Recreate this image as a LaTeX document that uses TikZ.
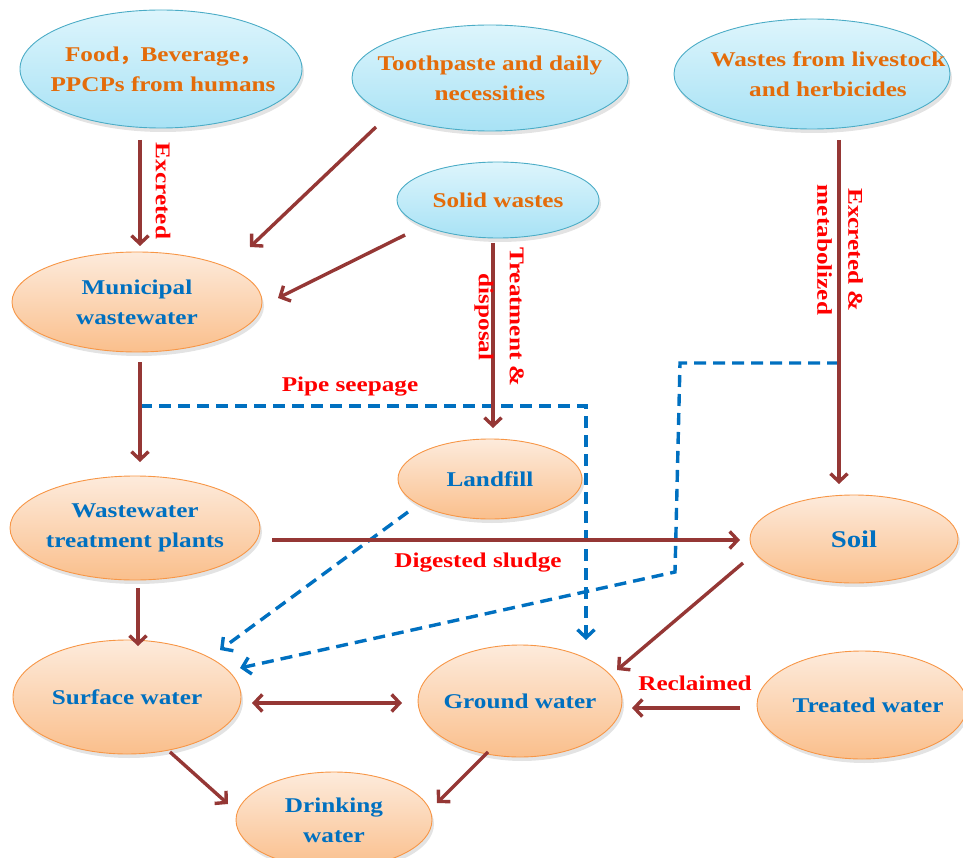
\documentclass[tikz,border=0pt]{standalone}
\usepackage{fontspec}
\setmainfont[FakeStretch=1.2]{Liberation Serif}
\newfontfamily\cjkfont{Noto Sans CJK SC}
\usetikzlibrary{arrows.meta,shapes.geometric,shadows}
\definecolor{brn}{HTML}{953735}
\definecolor{dblue}{HTML}{0070C0}
\definecolor{ortxt}{HTML}{E46C0A}
\definecolor{otop}{HTML}{FDEBDC}
\definecolor{obot}{HTML}{FABF8C}
\definecolor{oborder}{HTML}{F79646}
\definecolor{btop}{HTML}{DDF5FC}
\definecolor{bbot}{HTML}{A8E2F5}
\definecolor{bborder}{HTML}{4BACC6}
\definecolor{lblred}{HTML}{FF0000}
\newcommand{\nf}{\fontsize{21}{30}\selectfont\bfseries}
\newcommand{\rf}{\fontsize{21}{31}\selectfont\bfseries}
\newcommand{\fwc}{{\cjkfont ，}}
\tikzset{
  oval/.style={ellipse, inner sep=0pt, line width=0.9pt,
    drop shadow={opacity=0.22, shadow xshift=2pt, shadow yshift=-4pt}},
  onode/.style={oval, draw=oborder, top color=otop, bottom color=obot},
  bnode/.style={oval, draw=bborder, top color=btop, bottom color=bbot},
  otext/.style={text=dblue, font=\nf, align=center},
  btext/.style={text=ortxt, font=\nf, align=center},
  redlbl/.style={text=lblred, font=\rf, align=center, inner sep=0pt},
  tipbarb/.style={-{Straight Barb[length=8pt, width=17pt, line width=3.4pt]}},
  brar/.style={draw=brn, line width=3.4pt, tipbarb},
  dbar/.style={draw=brn, line width=3.4pt, {Straight Barb[length=8pt, width=17pt, line width=3.4pt]}-{Straight Barb[length=8pt, width=17pt, line width=3.4pt]}},
  blar/.style={draw=dblue, line width=3.4pt, dash pattern=on 12pt off 7pt, tipbarb}
}
\begin{document}
\begin{tikzpicture}[x=1pt,y=-1pt]
\useasboundingbox (0,0) rectangle (963,858);
% source nodes (blue)
\node[bnode, minimum width=282, minimum height=118,
  label={[btext, xshift=2pt]center:Food\fwc Beverage\fwc\\PPCPs from humans}] (food) at (161,69) {};
\node[bnode, minimum width=276, minimum height=106,
  label={[btext]center:Toothpaste and daily\\necessities}] (tooth) at (490,78) {};
\node[bnode, minimum width=276, minimum height=110,
  label={[btext, xshift=16pt]center:Wastes from livestock\\and herbicides}] (live) at (812,74) {};
\node[bnode, minimum width=202, minimum height=76,
  label={[btext]center:Solid wastes}] (solid) at (498,200) {};
% orange nodes
\node[onode, minimum width=250, minimum height=100,
  label={[otext]center:Municipal\\wastewater}] (muni) at (137,302) {};
\node[onode, minimum width=250, minimum height=104,
  label={[otext]center:Wastewater\\treatment plants}] (wwtp) at (135,528) {};
\node[onode, minimum width=184, minimum height=80,
  label={[otext]center:Landfill}] (land) at (490,479) {};
\node[onode, minimum width=208, minimum height=88,
  label={[otext, font=\fontsize{24}{26}\selectfont\bfseries]center:Soil}] (soil) at (854,539) {};
\node[onode, minimum width=228, minimum height=114,
  label={[otext]center:Surface water}] (surf) at (127,697) {};
\node[onode, minimum width=204, minimum height=112,
  label={[otext]center:Ground water}] (ground) at (520,701) {};
\node[onode, minimum width=210, minimum height=108,
  label={[otext, xshift=6pt]center:Treated water}] (treat) at (862,705) {};
\node[onode, minimum width=196, minimum height=96,
  label={[otext]center:Drinking\\water}] (drink) at (334,820) {};
% connector end points
\coordinate (fa) at (140,140); \coordinate (fb) at (140,246);
\coordinate (ta) at (376,127); \coordinate (tb) at (250,247);
\coordinate (sa) at (405,235); \coordinate (sb) at (278,298);
\coordinate (sc) at (493,243); \coordinate (sd) at (493,428);
\coordinate (ma) at (140,362); \coordinate (mb) at (140,462);
\coordinate (wa) at (272,540); \coordinate (wb) at (740,540);
\coordinate (wc) at (138,588); \coordinate (wd) at (138,646);
\coordinate (la) at (839,140); \coordinate (lb) at (839,484);
\coordinate (soa) at (743,563); \coordinate (sob) at (617,670);
\coordinate (ga) at (252,703); \coordinate (gb) at (402,703);
\coordinate (tra) at (740,708); \coordinate (trb) at (632,708);
\coordinate (da) at (170,752); \coordinate (db) at (228,804);
\coordinate (dc) at (488,752); \coordinate (dd) at (437,803);
\coordinate (pa) at (140,406); \coordinate (pc) at (586,406); \coordinate (pb) at (586,640);
\coordinate (lfa) at (408,512); \coordinate (lfb) at (220,650);
\coordinate (lva) at (839,363); \coordinate (lvb) at (680,363);
\coordinate (lvc) at (675,572); \coordinate (lvd) at (240,668);
% dashed blue
\draw[blar] (pa) -- (pc) -- (pb);
\draw[blar] (lfa) -- (lfb);
\draw[blar] (lva) -- (lvb) -- (lvc) -- (lvd);
% brown arrows
\draw[brar] (fa) -- (fb);
\draw[brar] (ta) -- (tb);
\draw[brar] (sa) -- (sb);
\draw[brar] (sc) -- (sd);
\draw[brar] (ma) -- (mb);
\draw[brar] (wa) -- (wb);
\draw[brar] (wc) -- (wd);
\draw[brar] (la) -- (lb);
\draw[brar] (soa) -- (sob);
\draw[dbar] (ga) -- (gb);
\draw[brar] (tra) -- (trb);
\draw[brar] (da) -- (db);
\draw[brar] (dc) -- (dd);
% labels
\node[redlbl, rotate=-90] (lex) at (163,191) {Excreted};
\node[redlbl, rotate=-90] (lex2) at (499,317) {Treatment \&\\disposal};
\node[redlbl, rotate=-90] (lem) at (840,250) {Excreted \&\\metabolized};
\node[redlbl] (lps) at (350,387) {Pipe seepage};
\node[redlbl] (lds) at (478,563) {Digested sludge};
\node[redlbl] (lrc) at (695,683) {Reclaimed};
\end{tikzpicture}
\end{document}
